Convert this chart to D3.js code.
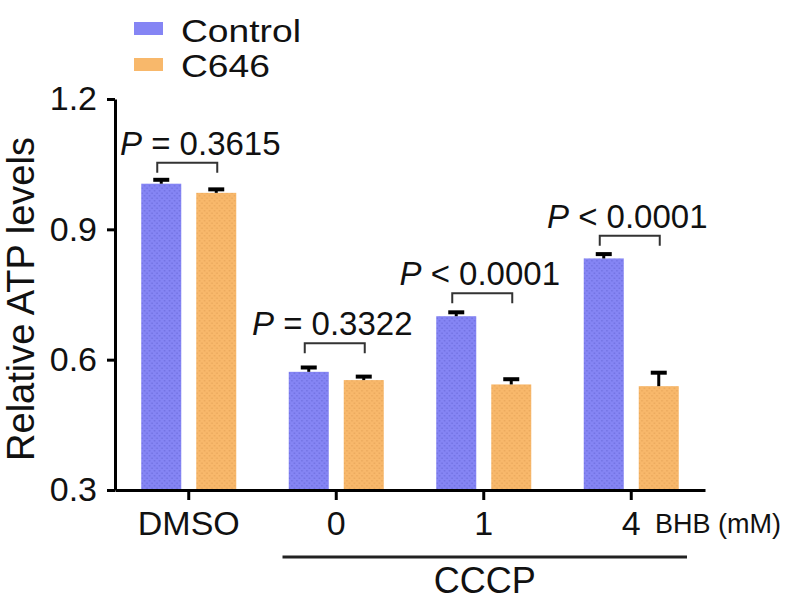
<!DOCTYPE html>
<html>
<head>
<meta charset="utf-8">
<script src="https://cdn.jsdelivr.net/npm/d3@7"></script>
<style>
  body { margin: 0; background: #fff; }
  svg text { font-family: "Liberation Sans", Arial, sans-serif; fill: #111; }
</style>
</head>
<body>
<svg id="chart" width="800" height="615"></svg>
<script>
// data
const groups = ["DMSO", "0", "1", "4"];
const seriesNames = ["Control", "C646"];
const controlValues = [1.005, 0.572, 0.700, 0.833];
const controlErrors = [0.009, 0.010, 0.009, 0.010];
const c646Values = [0.984, 0.553, 0.543, 0.539];
const c646Errors = [0.008, 0.008, 0.012, 0.031];
const pLabels = ["= 0.3615", "= 0.3322", "< 0.0001", "< 0.0001"];
const bracketLevels = [1.053, 0.638, 0.753, 0.885];
const yTicks = [0.3, 0.6, 0.9, 1.2];
const colors = ["#8585f4", "#f8b86b"];
const dotColors = ["#7171e0", "#eaa95c"];

const svg = d3.select("#chart");

// dotted texture like the original bars
const defs = svg.append("defs");
seriesNames.forEach((name, i) => {
    const pat = defs.append("pattern")
        .attr("id", "tex" + i)
        .attr("patternUnits", "userSpaceOnUse")
        .attr("width", 5).attr("height", 5);
    pat.append("rect").attr("width", 5).attr("height", 5).attr("fill", colors[i]);
    pat.append("rect").attr("x", 0).attr("y", 0).attr("width", 1.5).attr("height", 1.5).attr("fill", dotColors[i]);
    pat.append("rect").attr("x", 2.5).attr("y", 2.5).attr("width", 1.5).attr("height", 1.5).attr("fill", dotColors[i]);
});

const axisX = 115, axisRight = 705, axisBottom = 490, axisTop = 99;

const x = d3.scaleBand().domain(groups).range([axisX, axisRight]).padding(0);
const xInner = d3.scaleBand().domain(seriesNames).range([-47.5, 47.5]).paddingInner(15 / 55);
const y = d3.scaleLinear().domain([0.3, 1.2]).range([axisBottom, axisTop]);

const rows = groups.map((g, i) => ({
    group: g,
    bars: [
        { name: "Control", value: controlValues[i], err: controlErrors[i], idx: 0 },
        { name: "C646", value: c646Values[i], err: c646Errors[i], idx: 1 }
    ]
}));

// bars
const gGroups = svg.selectAll("g.grp")
    .data(rows)
    .join("g")
    .attr("class", "grp")
    .attr("transform", d => `translate(${x(d.group) + x.bandwidth() / 2},0)`);

gGroups.selectAll("rect")
    .data(d => d.bars)
    .join("rect")
    .attr("x", d => xInner(d.name))
    .attr("width", xInner.bandwidth())
    .attr("y", d => y(d.value))
    .attr("height", d => y(0.3) - y(d.value))
    .attr("fill", d => `url(#tex${d.idx})`);

// error bars (upper only)
gGroups.selectAll("line.stem")
    .data(d => d.bars)
    .join("line")
    .attr("class", "stem")
    .attr("x1", d => xInner(d.name) + xInner.bandwidth() / 2)
    .attr("x2", d => xInner(d.name) + xInner.bandwidth() / 2)
    .attr("y1", d => y(d.value))
    .attr("y2", d => y(d.value + d.err))
    .attr("stroke", "#000").attr("stroke-width", 3);

gGroups.selectAll("line.cap")
    .data(d => d.bars)
    .join("line")
    .attr("class", "cap")
    .attr("x1", d => xInner(d.name) + xInner.bandwidth() / 2 - 8)
    .attr("x2", d => xInner(d.name) + xInner.bandwidth() / 2 + 8)
    .attr("y1", d => y(d.value + d.err))
    .attr("y2", d => y(d.value + d.err))
    .attr("stroke", "#000").attr("stroke-width", 4);

// significance brackets
const legLen = 10;
gGroups.append("path")
    .attr("d", (d, i) => {
        const x0 = xInner("Control") + xInner.bandwidth() / 2 - 4;
        const x1 = xInner("C646") + xInner.bandwidth() / 2 + 1;
        const yb = y(bracketLevels[i]);
        return `M${x0},${yb + legLen}V${yb}H${x1}V${yb + legLen}`;
    })
    .attr("fill", "none").attr("stroke", "#333").attr("stroke-width", 2);

gGroups.each(function (d, i) {
    const g = d3.select(this);
    const cx = (xInner("Control") + xInner("C646") + xInner.bandwidth()) / 2;
    const t = g.append("text")
        .attr("y", y(bracketLevels[i]) - 8)
        .attr("text-anchor", "middle")
        .style("font-size", "33px");
    t.append("tspan").attr("font-style", "italic").text("P");
    t.append("tspan").text(" " + pLabels[i]);
    // keep the first label clear of the y axis
    const w = t.node().getComputedTextLength();
    const gx = x(d.group) + x.bandwidth() / 2;
    const minCx = axisX + 5 + w / 2 - gx;
    t.attr("x", Math.max(cx - 4, minCx));
});

// y axis
const yAxis = svg.append("g")
    .attr("transform", `translate(${axisX},0)`)
    .call(d3.axisLeft(y).tickValues(yTicks).tickFormat(d3.format(".1f")).tickSize(8).tickSizeOuter(0).tickPadding(10));
yAxis.select(".domain").attr("stroke", "#000").attr("stroke-width", 3);
yAxis.selectAll(".tick line").attr("stroke", "#000").attr("stroke-width", 3);
yAxis.selectAll(".tick text").style("font-size", "34px").attr("fill", "#111");

// x axis
const xAxis = svg.append("g")
    .attr("transform", `translate(0,${axisBottom})`)
    .call(d3.axisBottom(x).tickSize(10).tickSizeOuter(0).tickPadding(10));
xAxis.select(".domain").attr("stroke", "#000").attr("stroke-width", 3);
xAxis.selectAll(".tick line").attr("stroke", "#000").attr("stroke-width", 3);
xAxis.selectAll(".tick text").style("font-size", "34px").attr("fill", "#111")
    .attr("dy", null).attr("y", 45);

svg.append("text")
    .attr("x", 655).attr("y", 533)
    .style("font-size", "27px")
    .text("BHB (mM)");

// CCCP bracket under the treated groups
const cccpLeft = x("0") + 20, cccpRight = x("4") + x.bandwidth() - 18;
svg.append("line")
    .attr("x1", cccpLeft).attr("x2", cccpRight)
    .attr("y1", 557).attr("y2", 557)
    .attr("stroke", "#222").attr("stroke-width", 3);
svg.append("text")
    .attr("x", (cccpLeft + cccpRight) / 2)
    .attr("y", 593)
    .attr("text-anchor", "middle")
    .style("font-size", "36px")
    .text("CCCP");

// y title
svg.append("text")
    .attr("transform", "translate(34,299) rotate(-90)")
    .attr("text-anchor", "middle")
    .style("font-size", "38px")
    .text("Relative ATP levels");

// legend
const legend = svg.append("g");
seriesNames.forEach((name, i) => {
    legend.append("rect")
        .attr("x", 134).attr("y", 22 + i * 36)
        .attr("width", 29).attr("height", 13)
        .attr("fill", colors[i]);
    legend.append("text")
        .attr("transform", `translate(181,${42 + i * 35}) scale(1.2,1)`)
        .style("font-size", "31px")
        .text(name);
});
</script>
</body>
</html>
